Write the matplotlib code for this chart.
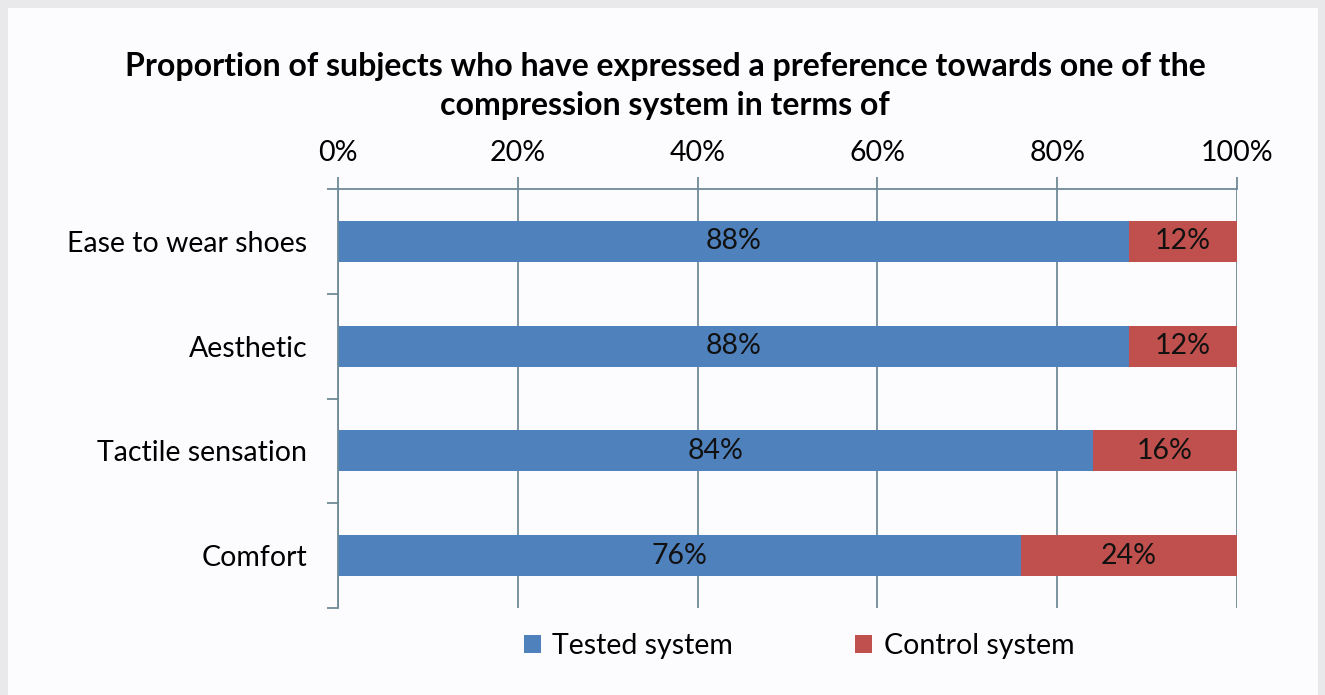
import matplotlib.pyplot as plt
import matplotlib.patches as mpatches
from matplotlib.ticker import FixedLocator, NullFormatter

# Preference shares per criterion
criteria = ["Ease to wear shoes", "Aesthetic", "Tactile sensation", "Comfort"]
tested = [88, 88, 84, 76]
control = [12, 12, 16, 24]
x_ticks = [0, 20, 40, 60, 80, 100]

blue = "#4f81bd"
red = "#c0504d"
grid_col = "#6f8b97"
fs = 20.5

plt.rcParams["font.family"] = ["Lato", "DejaVu Sans"]

fig = plt.figure(figsize=(13.25, 6.95), dpi=100, facecolor="#e9e9eb")
# inner panel
fig.patches.append(mpatches.Rectangle((8 / 1325, 0), 1310 / 1325, 687 / 695,
                                      transform=fig.transFigure,
                                      facecolor="#fcfcfe", edgecolor="none", zorder=-5))

ax = fig.add_axes([338 / 1325, (695 - 608) / 695, 899 / 1325, 419 / 695])
ax.set_facecolor("none")

ypos = list(range(len(criteria)))
ax.barh(ypos, tested, height=0.39, color=blue, zorder=2)
ax.barh(ypos, control, left=tested, height=0.39, color=red, zorder=2)

for y, t, c in zip(ypos, tested, control):
    ax.text(t / 2, y, f"{t}%", ha="center", va="center", fontsize=fs, color="#111111", zorder=3)
    ax.text(t + c / 2, y, f"{c}%", ha="center", va="center", fontsize=fs, color="#111111", zorder=3)

ax.set_xlim(0, 100)
ax.set_ylim(len(criteria) - 0.5, -0.5)

ax.xaxis.set_ticks_position("top")
ax.set_xticks(x_ticks)
ax.set_xticklabels([f"{v}%" for v in x_ticks], fontsize=fs)
ax.tick_params(axis="x", direction="out", length=9, width=1.3, color=grid_col, pad=7.5)

ax.set_yticks(ypos)
ax.set_yticklabels(criteria, fontsize=fs)
ax.yaxis.set_minor_locator(FixedLocator([-0.5, 0.5, 1.5, 2.5, 3.5]))
ax.yaxis.set_minor_formatter(NullFormatter())
ax.tick_params(axis="y", which="major", length=0, pad=22)
ax.tick_params(axis="y", which="minor", direction="out", length=8, width=1.3, color=grid_col)

ax.xaxis.grid(True, color=grid_col, linewidth=1.3, zorder=1)
ax.set_axisbelow(True)

for side in ["right", "bottom"]:
    ax.spines[side].set_visible(False)
for side in ["top", "left"]:
    ax.spines[side].set_color(grid_col)
    ax.spines[side].set_linewidth(1.3)

fig.text(665 / 1325, 1 - 86 / 695,
         "Proportion of subjects who have expressed a preference towards one of the\n"
         "compression system in terms of",
         ha="center", va="center", fontsize=23, fontweight="bold", linespacing=1.45)

handles = [mpatches.Patch(facecolor=blue, label="Tested system"),
           mpatches.Patch(facecolor=red, label="Control system")]
fig.legend(handles=handles, loc="center", bbox_to_anchor=(799 / 1325, 1 - 646 / 695),
           ncol=2, frameon=False, fontsize=fs, handlelength=0.6, handleheight=0.6,
           handletextpad=0.4, columnspacing=4.3)

fig.savefig("out.png", dpi=100, facecolor=fig.get_facecolor())
